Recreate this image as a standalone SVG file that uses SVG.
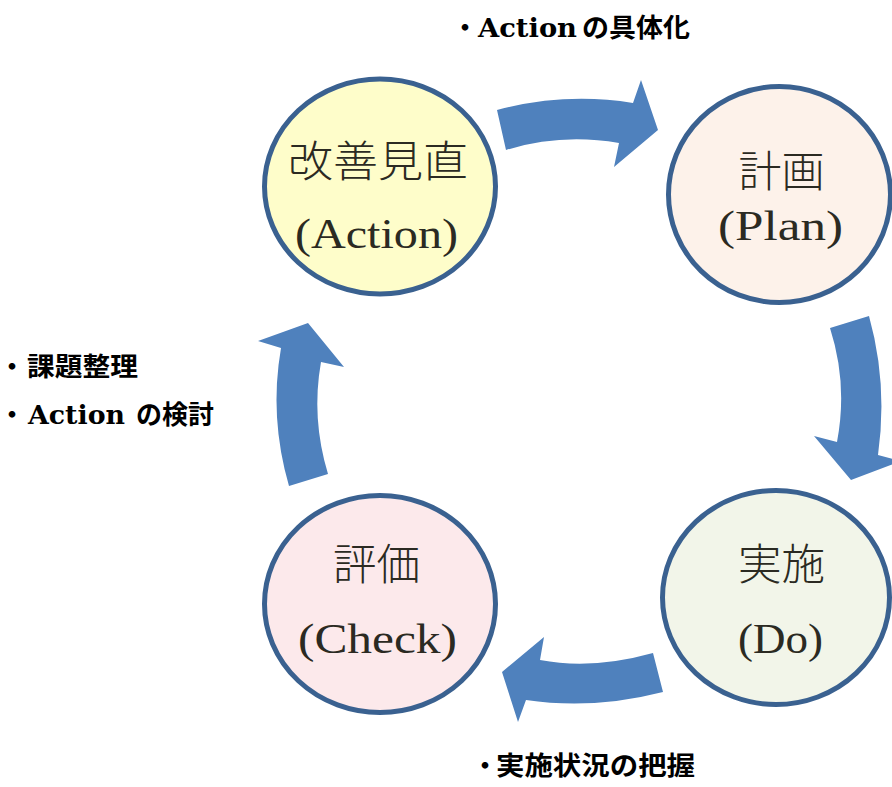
<svg xmlns="http://www.w3.org/2000/svg" width="892" height="787" viewBox="0 0 892 787">
<style>
.node ellipse{stroke:#3A6190;stroke-width:5}
.jp{font-family:"Noto Sans CJK JP","Noto Sans CJK SC",sans-serif;font-size:43px;font-weight:300;fill:#2b2a22;text-anchor:middle}
.lat{font-family:"Liberation Serif","DejaVu Serif",serif;font-size:42px;fill:#2b2a22;text-anchor:middle}
.arrow{fill:#4F81BD}
.lb{font-family:"Noto Sans CJK JP","Noto Sans CJK SC",sans-serif;font-size:26px;font-weight:700;fill:#000}
.lbl{font-family:"DejaVu Serif","Liberation Serif",serif;font-size:26px;font-weight:700;fill:#000}
</style>
<rect width="892" height="787" fill="#fff"/>
<g id="connectors">
<path class="arrow" d="M497,110 Q565,92 633,103 L641,80 L658,130 L614,167 L619,143 Q561,133 506,150 Z"/>
<path class="arrow" d="M830,328 L869,316 Q888,384 878,455 L901,461 L851,480 L814,436 L837,442 Q848,384 830,328 Z"/>
<path class="arrow" d="M653,653 L663,692 Q593,710 526,700 L518,722 L502,672 L544,637 L540,660 Q592,670 653,653 Z"/>
<path class="arrow" d="M289,486 L328,474 Q311,418 321,362 L344,367 L308,323 L258,341 L281,348 Q269,417 289,486 Z"/>
</g>
<g id="node-action" class="node">
<ellipse cx="380" cy="186.5" rx="115.5" ry="107.5" fill="#FEFDCA"/>
<text class="jp" x="378" y="177" textLength="180" lengthAdjust="spacingAndGlyphs">改善見直</text>
<text class="lat" x="376.5" y="248" textLength="163" lengthAdjust="spacingAndGlyphs">(Action)</text>
</g>
<g id="node-plan" class="node">
<ellipse cx="779.5" cy="194.5" rx="111" ry="108" fill="#FDF2EA"/>
<text class="jp" x="781.5" y="187" textLength="86" lengthAdjust="spacingAndGlyphs">計画</text>
<text class="lat" x="780.5" y="240" textLength="125" lengthAdjust="spacingAndGlyphs">(Plan)</text>
</g>
<g id="node-do" class="node">
<ellipse cx="776" cy="597.5" rx="113.5" ry="107" fill="#F2F5E9"/>
<text class="jp" x="781.5" y="580" textLength="87" lengthAdjust="spacingAndGlyphs">実施</text>
<text class="lat" x="780.5" y="653" textLength="85" lengthAdjust="spacingAndGlyphs">(Do)</text>
</g>
<g id="node-check" class="node">
<ellipse cx="380" cy="604" rx="115.5" ry="108.5" fill="#FCE9EB"/>
<text class="jp" x="376.5" y="580" textLength="87" lengthAdjust="spacingAndGlyphs">評価</text>
<text class="lat" x="377.5" y="653" textLength="159" lengthAdjust="spacingAndGlyphs">(Check)</text>
</g>
<g id="labels">
<text class="lb" x="465" y="37" text-anchor="middle">・</text>
<text class="lbl" x="478" y="37" textLength="99" lengthAdjust="spacingAndGlyphs">Action</text>
<text class="lb" x="582" y="37" textLength="108" lengthAdjust="spacingAndGlyphs">の具体化</text>
<text class="lb" x="12" y="376" text-anchor="middle">・</text>
<text class="lb" x="27" y="376" textLength="111" lengthAdjust="spacingAndGlyphs">課題整理</text>
<text class="lb" x="12" y="424" text-anchor="middle">・</text>
<text class="lbl" x="28" y="424" textLength="97" lengthAdjust="spacingAndGlyphs">Action</text>
<text class="lb" x="136" y="424" textLength="78" lengthAdjust="spacingAndGlyphs">の検討</text>
<text class="lb" x="485" y="775" text-anchor="middle">・</text>
<text class="lb" x="496" y="775" textLength="199" lengthAdjust="spacingAndGlyphs">実施状況の把握</text>
</g>
</svg>
